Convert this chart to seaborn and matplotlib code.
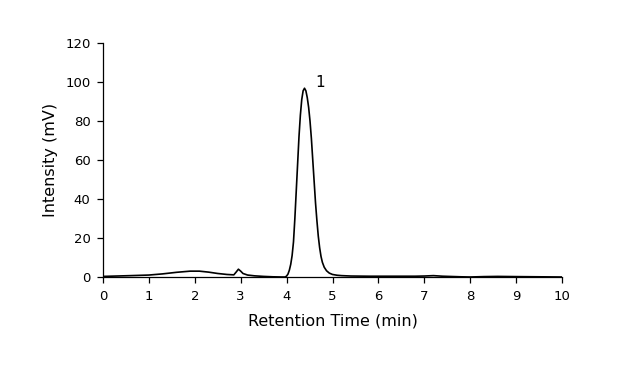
import matplotlib
matplotlib.use("Agg")
import matplotlib.pyplot as plt
import seaborn as sns
import pandas as pd

# Read-off chromatogram points (time in min, intensity in mV)
time_min = [0.0, 0.3, 0.6, 1.0, 1.3, 1.6, 1.9, 2.1, 2.3, 2.5, 2.7, 2.85, 2.9, 2.95,
            3.0, 3.05, 3.15, 3.3, 3.5, 3.7, 3.9, 3.97,
            4.00, 4.03, 4.06, 4.09, 4.12, 4.15, 4.18, 4.21, 4.24, 4.27, 4.30, 4.33,
            4.36, 4.39, 4.42, 4.45, 4.48, 4.51, 4.54, 4.57, 4.60, 4.63, 4.66, 4.69,
            4.72, 4.75, 4.78, 4.82, 4.87, 4.93, 5.00, 5.10, 5.20,
            5.4, 5.8, 6.3, 6.8, 7.0, 7.2, 7.4, 7.8,
            8.0, 8.3, 8.6, 9.0, 9.5, 10.0]
intensity_mv = [0.3, 0.5, 0.7, 1.0, 1.6, 2.4, 3.0, 3.0, 2.5, 1.8, 1.3, 1.1, 2.5, 4.0,
                3.0, 1.8, 1.0, 0.6, 0.3, 0.1, 0.0, 0.0,
                0.5, 1.5, 3.5, 6.5, 11.0, 18.0, 30.0, 44.0, 58.0, 72.0, 83.0, 91.0,
                95.5, 96.8, 95.5, 92.0, 87.0, 80.0, 71.0, 60.0, 49.0, 38.0, 29.0, 21.0,
                15.0, 10.5, 7.5, 5.0, 3.2, 2.0, 1.3, 0.9, 0.7,
                0.5, 0.4, 0.4, 0.4, 0.5, 0.7, 0.4, 0.1,
                0.0, 0.2, 0.3, 0.2, 0.1, 0.0]

x_ticks = [0, 1, 2, 3, 4, 5, 6, 7, 8, 9, 10]
y_ticks = [0, 20, 40, 60, 80, 100, 120]
peak_label = "1"
peak_time = 4.62
peak_height = 99.5

sns.set_theme(style="ticks")
plt.rcParams['font.family'] = ['DejaVu Sans']

df = pd.DataFrame({"t": time_min, "I": intensity_mv})

fig = plt.figure(figsize=(6.2, 3.65), dpi=100)
ax = fig.add_axes([103/620, 1 - 277/365, (562-103)/620, (277-43)/365])
sns.lineplot(data=df, x="t", y="I", ax=ax, color="black", linewidth=1.2)

ax.set_xlim(0, 10)
ax.set_ylim(0, 120)
ax.set_xticks(x_ticks)
ax.set_yticks(y_ticks)
ax.tick_params(axis="both", direction="out", length=4, width=0.9, color="black",
               labelsize=9.5, labelcolor="black", pad=5)
for s in ["top", "right"]:
    ax.spines[s].set_visible(False)
for s in ["left", "bottom"]:
    ax.spines[s].set_color("black")
    ax.spines[s].set_linewidth(0.9)

ax.set_xlabel("Retention Time (min)", fontsize=11.5, color="black", labelpad=8)
ax.set_ylabel("Intensity (mV)", fontsize=11.5, color="black", labelpad=5)
ax.text(peak_time, peak_height, peak_label, fontsize=11, color="black",
        ha="left", va="center")

fig.savefig("out.png", dpi=100, facecolor="white")
